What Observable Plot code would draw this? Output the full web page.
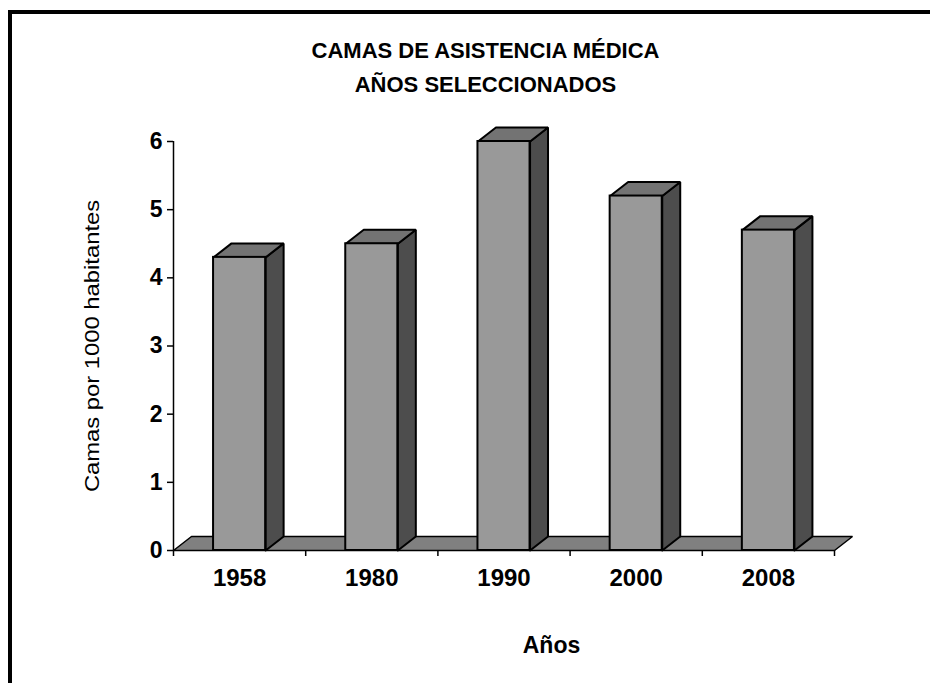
<!DOCTYPE html>
<html><head><meta charset="utf-8">
<script src="https://cdn.jsdelivr.net/npm/d3@7"></script>
<script src="https://cdn.jsdelivr.net/npm/@observablehq/plot@0.6"></script>
<style>
body{margin:0;background:#fff;}
#frame{position:absolute;left:8px;top:10px;width:1000px;height:1000px;border-left:4px solid #000;border-top:4px solid #000;box-sizing:border-box;pointer-events:none;}
#chart{position:absolute;left:0;top:0;}
</style></head><body>
<div id="chart"></div><div id="frame"></div>
<script>
const years = ["1958", "1980", "1990", "2000", "2008"];
const values = [4.3, 4.5, 6.0, 5.2, 4.7];
const yTicks = [0, 1, 2, 3, 4, 5, 6];
const title1 = "CAMAS DE ASISTENCIA MÉDICA";
const title2 = "AÑOS SELECCIONADOS";
const yLabel = "Camas por 1000 habitantes";
const xLabel = "Años";

// 3D geometry in data units (band = 1 unit on x)
const HALF = 0.197, DX = 0.136, DY = 0.205;
const rows = years.map((year, i) => ({year, value: values[i], c: i + 0.5}));
function poly(id, pts) { return pts.concat([pts[0]]).map(([x, y]) => ({id, x, y})); }
const n = years.length;
const floor = poly("floor", [[0, 0], [n, 0], [n + DX, DY], [DX, DY]]);
const sides = rows.flatMap(d => poly(d.year, [[d.c + HALF, 0], [d.c + HALF + DX, DY], [d.c + HALF + DX, d.value + DY], [d.c + HALF, d.value]]));
const tops = rows.flatMap(d => poly(d.year, [[d.c - HALF, d.value], [d.c + HALF, d.value], [d.c + HALF + DX, d.value + DY], [d.c - HALF + DX, d.value + DY]]));
const bounds = d3.range(n + 1);
const centers = rows.map(d => d.c);

const chart = Plot.plot({
  width: 930,
  height: 683,
  marginLeft: 173,
  marginRight: 96,
  marginTop: 141,
  marginBottom: 133,
  style: {fontFamily: "'Liberation Sans', Arial, sans-serif", color: "#000", background: "transparent"},
  x: {domain: [0, n], axis: null},
  y: {domain: [0, 6], axis: null},
  marks: [
    Plot.line(floor, {x: "x", y: "y", z: "id", fill: "#808080", stroke: "#000", strokeWidth: 1.5, strokeLinejoin: "miter"}),
    Plot.line(sides, {x: "x", y: "y", z: "id", fill: "#4d4d4d", stroke: "#000", strokeWidth: 2, strokeLinejoin: "miter"}),
    Plot.line(tops, {x: "x", y: "y", z: "id", fill: "#737373", stroke: "#000", strokeWidth: 2, strokeLinejoin: "miter"}),
    Plot.rect(rows, {x1: d => d.c - HALF, x2: d => d.c + HALF, y1: 0, y2: "value", fill: "#999999", stroke: "#000", strokeWidth: 2}),
    Plot.ruleX([0], {y1: 0, y2: 6, stroke: "#000", strokeWidth: 1.5}),
    Plot.axisY({ticks: yTicks, tickSize: 6, tickPadding: 5, tickFormat: d3.format("d"), fontSize: 23, fontWeight: "bold", label: null, strokeWidth: 1.5}),
    Plot.axisX({ticks: bounds, tickSize: 6, tickFormat: () => "", label: null, strokeWidth: 1.5}),
    Plot.axisX({ticks: centers, tickSize: 0, tickPadding: 18, tickFormat: d => years[Math.floor(d)], fontSize: 24, fontWeight: "bold", label: null}),
    Plot.text([title1], {text: d => d, frameAnchor: "top", lineAnchor: "middle", dx: -18.5, dy: -91, fontSize: 22, fontWeight: "bold"}),
    Plot.text([title2], {text: d => d, frameAnchor: "top", lineAnchor: "middle", dx: -18.5, dy: -57, fontSize: 22, fontWeight: "bold"}),
    Plot.text([yLabel], {text: d => d, frameAnchor: "left", lineAnchor: "middle", textAnchor: "middle", dx: -81, rotate: -90, fontSize: 20, className: "ylab"}),
    Plot.text([xLabel], {text: d => d, frameAnchor: "bottom", lineAnchor: "middle", dx: 47.5, dy: 95, fontSize: 23, fontWeight: "bold"})
  ]
});
// stretch the rotated axis label along its length, as in the reference
d3.select(chart).selectAll("text").filter(function() { return this.textContent === yLabel; })
  .each(function() {
    const t = this.getAttribute("transform") || "";
    this.setAttribute("transform", t + " scale(1.19,1)");
  });
document.getElementById("chart").appendChild(chart);
</script>
</body></html>
